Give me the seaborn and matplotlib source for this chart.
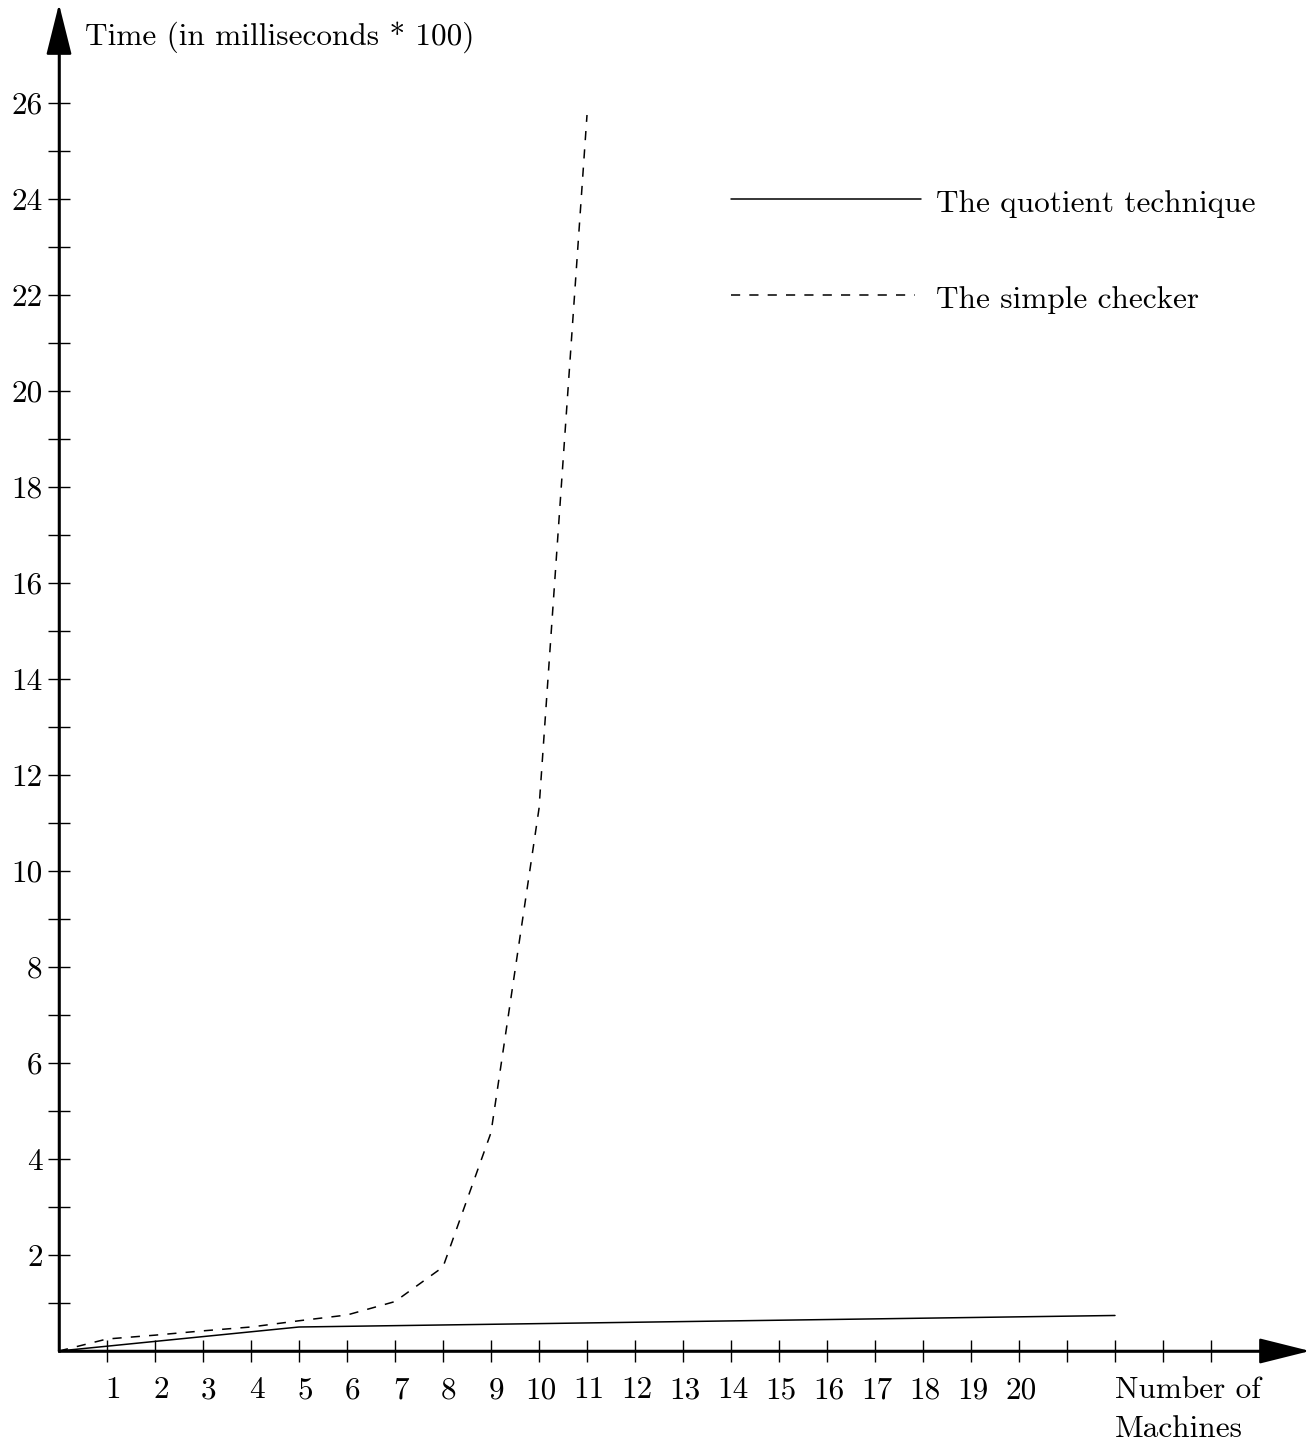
import matplotlib
matplotlib.use("Agg")
import matplotlib.pyplot as plt
import matplotlib.transforms as mtransforms
import pandas as pd
import seaborn as sns

# ---- data ----
series_names = ["The quotient technique", "The simple checker"]
machines_quotient = [0, 1, 2, 3, 4, 5, 22]
time_quotient = [0, 0.1, 0.2, 0.3, 0.4, 0.5, 0.74]
machines_simple = [0, 1, 2, 3, 4, 5, 6, 7, 8, 9, 10, 11]
time_simple = [0, 0.25, 0.33, 0.42, 0.5, 0.63, 0.75, 1.03, 1.75, 4.55, 11.3, 25.75]
x_tick_values = list(range(1, 25))
x_tick_labels = [str(i) for i in range(1, 21)] + [""] * 4
y_tick_values = list(range(1, 27))
y_tick_labels = [str(v) if v % 2 == 0 else "" for v in y_tick_values]
y_label = "Time (in milliseconds * 100)"
x_label = "Number of\nMachines"

df = pd.concat([
    pd.DataFrame({"machines": machines_quotient, "time": time_quotient, "method": series_names[0]}),
    pd.DataFrame({"machines": machines_simple, "time": time_simple, "method": series_names[1]}),
], ignore_index=True)

sns.set_style("white")
plt.rcParams["font.family"] = ["cmr10", "DejaVu Serif"]
plt.rcParams["mathtext.fontset"] = "cm"
plt.rcParams["axes.formatter.use_mathtext"] = True
plt.rcParams["text.color"] = "black"
FS = 22.5

W, H, DPI = 1313, 1446, 100
fig = plt.figure(figsize=(W / DPI, H / DPI), dpi=DPI)
ax = fig.add_axes([0, 0, 1, 1])
u = 48.0  # pixels per unit
ox, oy = 59.0, 1351.0
ax.set_xlim(-ox / u, (W - ox) / u)
ax.set_ylim(-(H - oy) / u, oy / u)

dash = (6, 6)
sns.lineplot(data=df, x="machines", y="time", style="method", color="black",
             dashes={series_names[0]: "", series_names[1]: dash},
             linewidth=1.1, legend=False, ax=ax, estimator=None, sort=False)

# axes through origin
for s in ["top", "right"]:
    ax.spines[s].set_visible(False)
ax.spines["left"].set_position(("data", 0))
ax.spines["bottom"].set_position(("data", 0))
ax.spines["left"].set_bounds(0, 27.0)
ax.spines["bottom"].set_bounds(0, 25.0)
for s in ["left", "bottom"]:
    ax.spines[s].set_linewidth(1.8)
    ax.spines[s].set_color("black")

ax.set_xticks(x_tick_values)
ax.set_xticklabels(x_tick_labels)
ax.set_yticks(y_tick_values)
ax.set_yticklabels(y_tick_labels)
ax.tick_params(axis="both", direction="inout", length=16.5, width=1.0, color="black",
               labelsize=FS, labelcolor="black", bottom=True, left=True)
ax.tick_params(axis="x", pad=10)
ax.tick_params(axis="y", pad=3.5)
ax.set_xlabel("")
ax.set_ylabel("")
ax.grid(False)

# slight rightward shift of the x tick labels, as in the reference
for lab in ax.get_xticklabels():
    shift = 6 if len(lab.get_text()) == 1 else 2
    lab.set_transform(lab.get_transform() +
                      mtransforms.ScaledTranslation(shift / DPI, 0, fig.dpi_scale_trans))

# arrow heads
xtip = (1310 - ox) / u
ytip = (oy - 4) / u
arrow_kw = dict(arrowstyle="-|>,head_length=0.32,head_width=0.08", color="black",
                lw=1.8, mutation_scale=100, shrinkA=0, shrinkB=0)
ax.annotate("", xy=(xtip, 0), xytext=(0, 0), arrowprops=arrow_kw, annotation_clip=False)
ax.annotate("", xy=(0, ytip), xytext=(0, 0), arrowprops=arrow_kw, annotation_clip=False)

# axis titles
ax.text((85 - ox) / u, (oy - 37) / u, y_label, fontsize=FS, ha="left", va="center",
        color="black")
ax.text((1115 - ox) / u, (oy - 1376) / u, x_label, fontsize=FS, ha="left", va="top",
        linespacing=1.5, color="black")

# legend drawn as a key
ax.plot([(731 - ox) / u, (921 - ox) / u], [24, 24], color="black", lw=1.1)
ax.plot([(731 - ox) / u, (915 - ox) / u], [22, 22], color="black", lw=1.1,
        dashes=dash)
ax.text((936 - ox) / u, 24 - 0.1, series_names[0], fontsize=FS, ha="left", va="center",
        color="black")
ax.text((936 - ox) / u, 22 - 0.1, series_names[1], fontsize=FS, ha="left", va="center",
        color="black")

fig.savefig("out.png", dpi=DPI, facecolor="white")
